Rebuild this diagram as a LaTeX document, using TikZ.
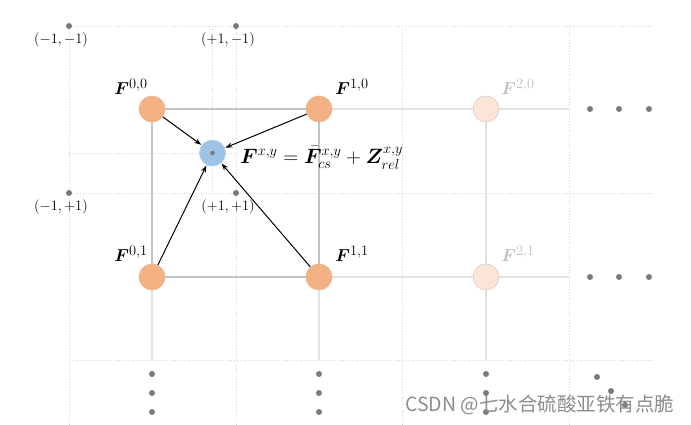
\documentclass[tikz,border=0pt]{standalone}
\usepackage{amsmath}
\usepackage{bm}
\usepackage{fontspec}
\newfontfamily\cjkfont{Noto Sans CJK SC}
\usetikzlibrary{arrows.meta}
\definecolor{gridc}{HTML}{D4D4D4}
\definecolor{linedark}{HTML}{C4C4C4}
\definecolor{linelight}{HTML}{E2E2E2}
\definecolor{orangef}{HTML}{F4B183}
\definecolor{oranged}{HTML}{EDB894}
\definecolor{fadef}{HTML}{FBE5D6}
\definecolor{faded}{HTML}{E6D3C8}
\definecolor{bluef}{HTML}{9DC3E6}
\definecolor{blued}{HTML}{B3CFEA}
\definecolor{dotc}{HTML}{7A7A7A}
\definecolor{fadetext}{HTML}{C0C0C0}
\tikzset{
  x=1pt,y=-1pt,
  grid/.style={gridc, dotted, line width=0.8pt},
  dark/.style={linedark, line width=1.2pt},
  light/.style={linelight, line width=1.2pt},
  fnode/.style={circle, minimum size=26pt, inner sep=0pt, fill=orangef, draw=oranged, line width=0.8pt},
  fade/.style={circle, minimum size=26pt, inner sep=0pt, fill=fadef, draw=faded, line width=0.8pt},
  bnode/.style={circle, minimum size=26pt, inner sep=0pt, fill=bluef, draw=blued, line width=0.8pt},
  gdot/.style={circle, fill=dotc, minimum size=6pt, inner sep=0pt},
  cdot/.style={circle, fill=dotc, minimum size=4.5pt, inner sep=0pt},
  lab/.style={font=\fontsize{19}{22}\selectfont, inner sep=0pt},
  eqlab/.style={font=\fontsize{20}{23}\selectfont, inner sep=0pt},
  coordlab/.style={font=\fontsize{14.5}{16}\selectfont, inner sep=0pt},
  arr/.style={-{Stealth[length=7pt,width=5pt]}, line width=1pt, black, shorten >=0.5pt},
}
\begin{document}
\begin{tikzpicture}
\useasboundingbox (0,0) rectangle (691,424);
% dotted grid
\draw[grid] (69,26) -- (653,26);
\draw[grid] (69,193) -- (653,193);
\draw[grid] (69,360) -- (653,360);
\draw[grid] (69,153) -- (236,153);
\draw[grid] (69,26) -- (69,424);
\draw[grid] (236,26) -- (236,424);
\draw[grid] (402,26) -- (402,424);
\draw[grid] (569,26) -- (569,424);
\draw[grid] (212.5,26) -- (212.5,193);
% corner dots and labels
\node[gdot] (c1) at (69,26) {};
\node[gdot] (c2) at (236,26) {};
\node[gdot] (c3) at (69,193) {};
\node[gdot] (c4) at (236,193) {};
\node[coordlab] (l1) at (61,40) {$(-1,-1)$};
\node[coordlab] (l2) at (228,40) {$(+1,-1)$};
\node[coordlab] (l3) at (61,207) {$(-1,+1)$};
\node[coordlab] (l4) at (228,207) {$(+1,+1)$};
% coordinates for line ends
\coordinate (e1) at (569,109);
\coordinate (e2) at (569,277);
\coordinate (b1) at (152,360);
\coordinate (b2) at (319,360);
\coordinate (b3) at (486,360);
% solid lines
\draw[light] (319,109) -- (e1);
\draw[light] (319,277) -- (e2);
\draw[light] (152,277) -- (b1);
\draw[light] (319,277) -- (b2);
\draw[light] (486,109) -- (b3);
\draw[dark] (152,109) -- (319,109) -- (319,277) -- (152,277) -- cycle;
% nodes
\node[fnode] (f00) at (152,109) {};
\node[fnode] (f10) at (319,109) {};
\node[fnode] (f01) at (152,277) {};
\node[fnode] (f11) at (319,277) {};
\node[fade] (f20) at (486,109) {};
\node[fade] (f21) at (486,277) {};
\node[bnode] (fxy) at (212.5,153) {};
\node[cdot] (fxyc) at (212.5,153) {};
% node labels
\node[lab] (t00) at (131,87) {$\bm{F}^{0,0}$};
\node[lab] (t10) at (352,87) {$\bm{F}^{1,0}$};
\node[lab] (t01) at (131,254) {$\bm{F}^{0,1}$};
\node[lab] (t11) at (352,254) {$\bm{F}^{1,1}$};
\node[lab, text=fadetext] (t20) at (518,87) {$\bm{F}^{2,0}$};
\node[lab, text=fadetext] (t21) at (518,254) {$\bm{F}^{2,1}$};
\node[eqlab, anchor=base west] (eq) at (240,163) {$\bm{F}^{x,y}=\bar{\bm{F}}^{x,y}_{cs}+\bm{Z}^{x,y}_{rel}$};
% arrows
\draw[arr] (f00) -- (fxy);
\draw[arr] (f10) -- (fxy);
\draw[arr] (f01) -- (fxy);
\draw[arr] (f11) -- (fxy);
% ellipsis dots
\node[gdot] (r1) at (590,109) {};
\node[gdot] (r2) at (619,109) {};
\node[gdot] (r3) at (649,109) {};
\node[gdot] (s1) at (590,277) {};
\node[gdot] (s2) at (619,277) {};
\node[gdot] (s3) at (649,277) {};
\node[gdot] (u1) at (152,374) {};
\node[gdot] (u2) at (152,393) {};
\node[gdot] (u3) at (152,412) {};
\node[gdot] (v1) at (319,374) {};
\node[gdot] (v2) at (319,393) {};
\node[gdot] (v3) at (319,412) {};
\node[gdot] (w1) at (486,374) {};
\node[gdot] (w2) at (486,393) {};
\node[gdot] (w3) at (486,412) {};
\node[gdot] (d1) at (597,377) {};
\node[gdot] (d2) at (611,391) {};
\node[gdot] (d3) at (625,405) {};
% watermark
\node[anchor=base west, inner sep=0pt, text=black!45, font=\cjkfont\fontsize{19.5}{22}\selectfont] (wm) at (405,411) {CSDN @七水合硫酸亚铁有点脆};
\end{tikzpicture}
\end{document}
